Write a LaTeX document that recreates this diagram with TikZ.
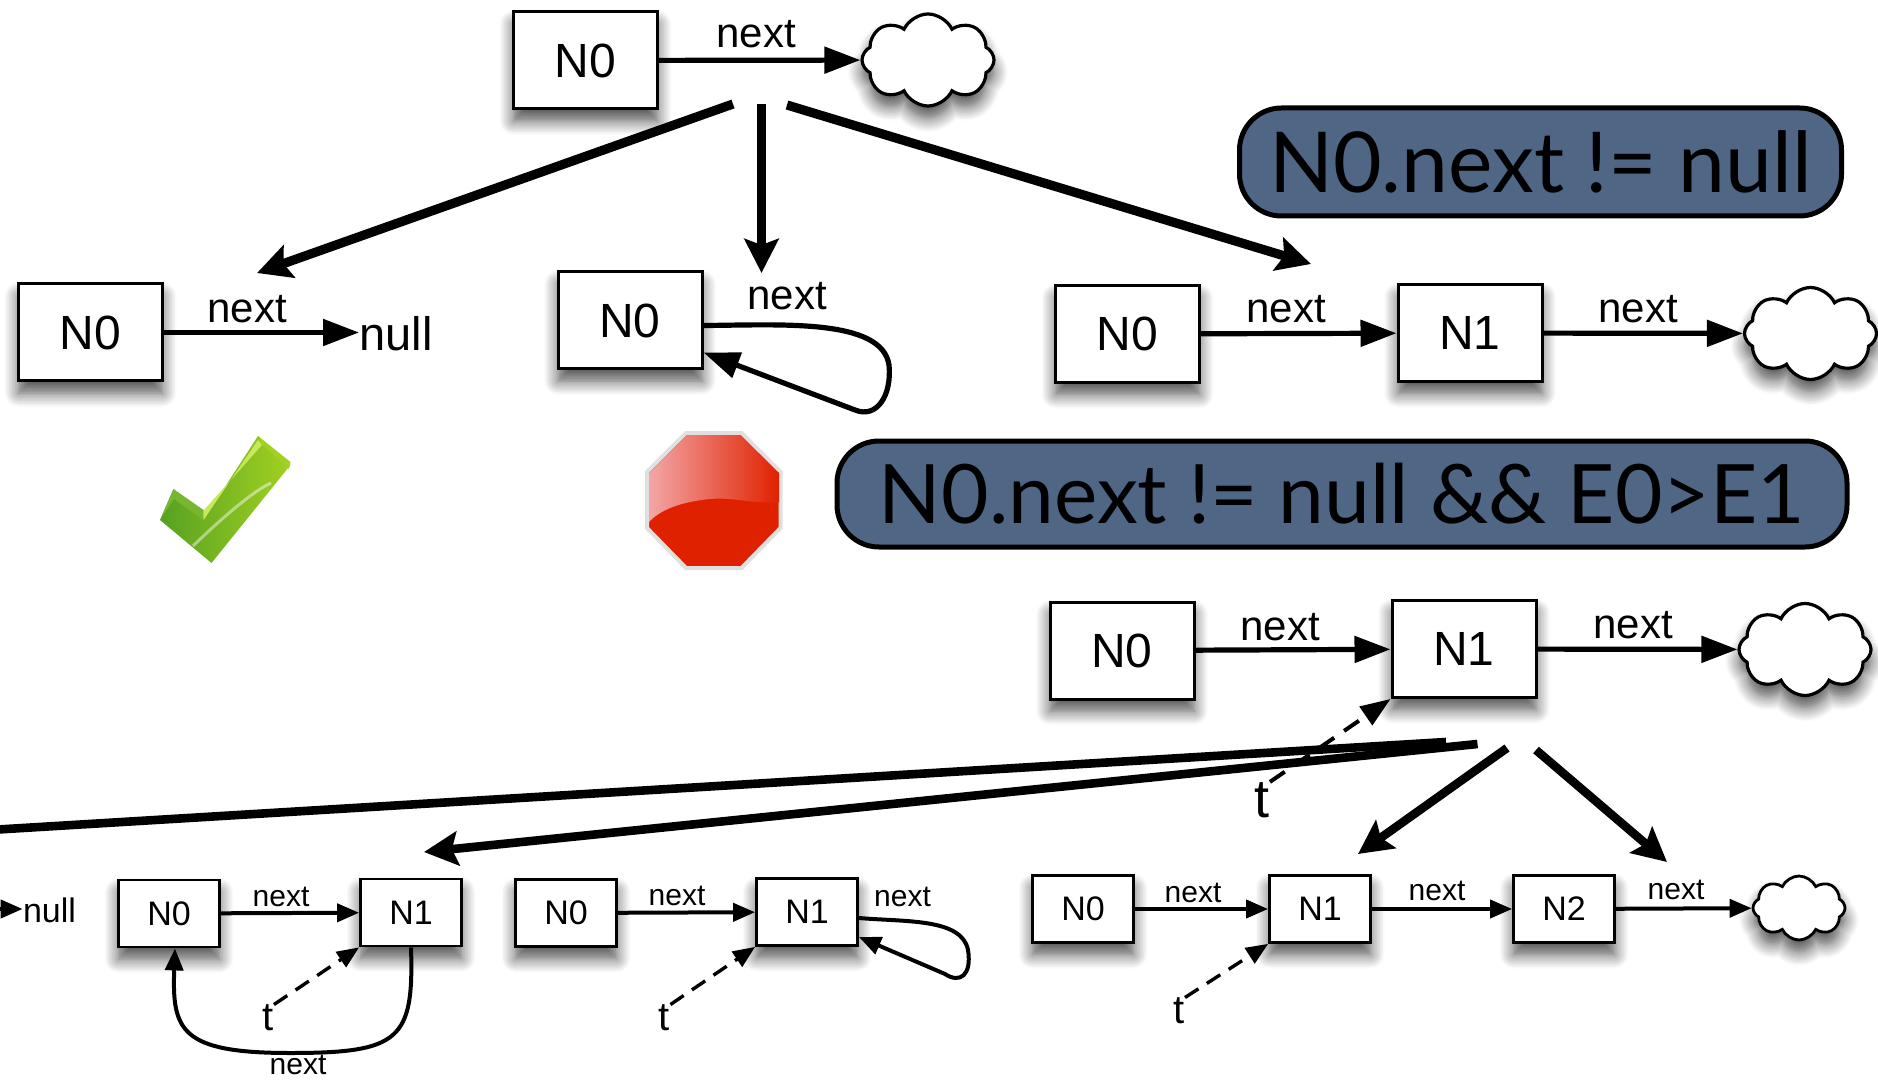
\documentclass[tikz,border=0pt]{standalone}
\usepackage{fontspec}
\setmainfont{Liberation Sans}
\newfontfamily\pillfont{Lato}
\usetikzlibrary{arrows.meta,shapes.symbols,shadows.blur}
\definecolor{ttwwuu}{rgb}{0.31,0.40,0.52}
\definecolor{ddqqqq}{rgb}{0.88,0.13,0}
\definecolor{ffwwww}{rgb}{0.95,0.65,0.65}
\definecolor{qqwuqq}{rgb}{0.34,0.63,0.13}
\definecolor{wwccqq}{rgb}{0.63,0.82,0.13}
\definecolor{ttzzqq}{rgb}{0.78,0.91,0.35}
\tikzset{
	boxshadow/.style={blur shadow={shadow xshift=0pt,shadow yshift=-6pt,shadow blur radius=7pt,shadow blur steps=10,shadow opacity=70}},
	bigbox/.style={draw,line width=1.5pt,fill=white,inner sep=0pt,minimum width=72pt,minimum height=48.5pt,font=\fontsize{24}{24}\selectfont,boxshadow},
	smallbox/.style={draw,line width=1.4pt,fill=white,inner sep=0pt,minimum width=50.5pt,minimum height=33.5pt,font=\fontsize{17}{17}\selectfont,boxshadow},
	bigcloud/.style={cloud,cloud puffs=8,cloud puff arc=130,aspect=1.4,draw,line width=1.6pt,fill=white,inner sep=0pt,minimum width=66pt,minimum height=46pt,boxshadow},
	smallcloud/.style={cloud,cloud puffs=8,cloud puff arc=130,aspect=1.4,draw,line width=1.4pt,fill=white,inner sep=0pt,minimum width=46pt,minimum height=32pt,boxshadow},
	biglabel/.style={inner sep=0pt,font=\fontsize{21}{21}\selectfont},
	smalllabel/.style={inner sep=0pt,font=\fontsize{15}{15}\selectfont},
	tlabel/.style={inner sep=0pt,font=\fontsize{27}{27}\selectfont},
	smallt/.style={inner sep=0pt,font=\fontsize{20}{20}\selectfont},
	bignext/.style={line width=2.6pt,-{Triangle[length=18pt,width=13pt]}},
	smallnext/.style={line width=2pt,-{Triangle[length=11pt,width=9pt]}},
	treearrow/.style={line width=4.6pt,-{Stealth[length=17pt,width=17pt,inset=3pt]}},
	lowtree/.style={line width=4.3pt,-{Stealth[length=17pt,width=17pt,inset=3pt]}},
	bigdash/.style={line width=2pt,dash pattern=on 9pt off 6pt,-{Triangle[length=15pt,width=11pt]}},
	smalldash/.style={line width=1.7pt,dash pattern=on 8pt off 5pt,-{Triangle[length=11pt,width=9pt]}},
	pill/.style={draw,line width=2.5pt,fill=ttwwuu,rounded corners=21pt,inner sep=0pt,font=\pillfont\selectfont}
}
\begin{document}
\begin{tikzpicture}[line cap=butt,line join=miter,x=0.5pt,y=-0.5pt]
		\useasboundingbox (0,0) rectangle (1878,1080);
		\clip (0,0) rectangle (1878,1080);
		% first line
		\node[bigbox] (topN0) at (585.5,60.5) {N0};
		\node[bigcloud] (topcloud) at (928,60) {};
		\draw[bignext] (topN0) -- (topcloud);
		\node[biglabel] (topnext) at (756,34) {next};
		\coordinate (topa) at (733,104);
		\coordinate (topb) at (761.5,104);
		\coordinate (topc) at (787,105);
		\coordinate (tipa) at (257,273);
		\coordinate (tipb) at (761.5,273);
		\coordinate (tipc) at (1311,264);
		\draw[treearrow] (topa) -- (tipa);
		\draw[treearrow] (topb) -- (tipb);
		\draw[treearrow] (topc) -- (tipc);
		% second line
		\node[bigbox] (aN0) at (90.5,332.5) {N0};
		\node[inner sep=0pt,font=\fontsize{23.5}{23.5}\selectfont] (anull) at (396,334) {null};
		\draw[bignext] (aN0) -- (aN0 -| anull.west);
		\node[biglabel] (anext) at (247,309) {next};
		\node[bigbox] (bN0) at (630,320.5) {N0};
		\node[biglabel] (bnext) at (787,296) {next};
		\draw[line width=2.6pt,-{Triangle[length=18pt,width=13pt]}] ([yshift=-2.5pt]bN0.east) .. controls (780,325) and (882,318) .. (889,365) .. controls (892,395) and (877,419) .. (855,410) -- ([yshift=-16pt]bN0.east);
		\node[bigbox] (cN0) at (1127.5,334) {N0};
		\node[bigbox] (cN1) at (1470,333) {N1};
		\node[bigcloud] (ccloud) at (1810.5,333.5) {};
		\draw[bignext] (cN0) -- (cN1);
		\draw[bignext] (cN1) -- (ccloud);
		\node[biglabel] (cnexta) at (1286,309) {next};
		\node[biglabel] (cnextb) at (1638,309) {next};
		% conditions
		\node[pill,font=\pillfont\fontsize{42}{42}\selectfont,minimum width=301pt,minimum height=54pt] (conda) at (1540.5,162) {N0.next != null};
		\node[pill,font=\pillfont\fontsize{41}{41}\selectfont,minimum width=505pt,minimum height=53pt] (condb) at (1342,494) {N0.next != null \&\& E0>E1};
		% tick
		\shade[left color=qqwuqq,right color=wwccqq] (211.5,563) -- (160,520) -- (173.5,489) -- (203.5,520) -- (258,436) -- (290.5,465) -- cycle;
		\fill[wwccqq] (258,436) -- (290.5,462) -- (289,469) -- (261,443) -- cycle;
		\fill[ttzzqq] (203.5,520) -- (258,440) -- (262,445) -- (204,510) -- cycle;
		\fill[qqwuqq!70!ttzzqq] (173.5,489) -- (203.5,510) -- (203.5,520) -- (174,499) -- (161,518) -- cycle;
		\draw[white,opacity=0.45,line width=1.5pt] (193,546) .. controls (225,515) and (255,490) .. (271,483);
		% stop
		\fill[ddqqqq,draw=black!12,line width=2pt] (686,433) -- (741.5,433) -- (780.5,472) -- (780.5,528) -- (741.5,568) -- (686,568) -- (647,528) -- (647,472) -- cycle;
		\shade[left color=ffwwww,right color=ddqqqq] (687,435) -- (740.5,435) -- (779,473) -- (779,502) .. controls (750,504) and (735,497) .. (710,499) .. controls (680,502) and (660,510) .. (649,522) -- (649,473) -- cycle;
		% third line
		\node[bigbox] (dN0) at (1122,650.5) {N0};
		\node[bigbox] (dN1) at (1464,649) {N1};
		\node[bigcloud] (dcloud) at (1805,649.5) {};
		\draw[bignext] (dN0) -- (dN1);
		\draw[bignext] (dN1) -- (dcloud);
		\node[biglabel] (dnexta) at (1280,627) {next};
		\node[biglabel] (dnextb) at (1633,625) {next};
		\node[tlabel] (dt) at (1262,800) {t};
		\draw[bigdash] (dt.north east) -- (dN1.south west);
		\coordinate (lowa) at (1446,742);
		\coordinate (lowb) at (1477.5,744);
		\coordinate (lowc) at (1507,748);
		\coordinate (lowd) at (1536,750);
		\coordinate (lowtipa) at (-60,833);
		\coordinate (lowtipb) at (424,852);
		\coordinate (lowtipc) at (1358,854);
		\coordinate (lowtipd) at (1667,862);
		\draw[lowtree] (lowa) -- (lowtipa);
		\draw[lowtree] (lowb) -- (lowtipb);
		\draw[lowtree] (lowc) -- (lowtipc);
		\draw[lowtree] (lowd) -- (lowtipd);
		% fourth line
		\coordinate (offnull) at (-40,909);
		\node[inner sep=0pt,font=\fontsize{17}{17}\selectfont] (enull) at (49.5,910) {null};
		\draw[smallnext] (offnull) -- (offnull -| enull.west);
		\node[smallbox] (eN0) at (169,913.5) {N0};
		\node[smallbox] (eN1) at (411,912.5) {N1};
		\draw[smallnext] (eN0) -- (eN1);
		\node[smalllabel] (enexta) at (281,897) {next};
		\draw[line width=2pt,-{Triangle[length=11pt,width=9pt]}] (eN1.south) .. controls (414,1040) and (400,1053) .. (290,1053) .. controls (180,1053) and (172,1030) .. ([xshift=3pt]eN0.south);
		\node[smalllabel] (enextb) at (298,1065) {next};
		\node[smallt] (et) at (268,1018) {t};
		\draw[smalldash] (et.north east) -- (eN1.south west);
		\node[smallbox] (fN0) at (566,913) {N0};
		\node[smallbox] (fN1) at (807,912) {N1};
		\draw[smallnext] (fN0) -- (fN1);
		\node[smalllabel] (fnexta) at (677,896) {next};
		\node[smalllabel] (fnextb) at (902.5,897) {next};
		\draw[line width=2pt,-{Triangle[length=11pt,width=9pt]}] ([yshift=-3pt]fN1.east) .. controls (905,922) and (962,918) .. (968,950) .. controls (972,975) and (960,984) .. (945,974) -- ([yshift=-12.5pt]fN1.east);
		\node[smallt] (ft) at (664.5,1018) {t};
		\draw[smalldash] (ft.north east) -- (fN1.south west);
		\node[smallbox] (gN0) at (1083,909) {N0};
		\node[smallbox] (gN1) at (1320,909) {N1};
		\node[smallbox] (gN2) at (1564,909) {N2};
		\node[smallcloud] (gcloud) at (1799,908) {};
		\draw[smallnext] (gN0) -- (gN1);
		\draw[smallnext] (gN1) -- (gN2);
		\draw[smallnext] (gN2) -- (gcloud);
		\node[smalllabel] (gnexta) at (1193,893) {next};
		\node[smalllabel] (gnextb) at (1437,891) {next};
		\node[smalllabel] (gnextc) at (1676,890) {next};
		\node[smallt] (gt) at (1179,1011) {t};
		\draw[smalldash] (gt.north east) -- (gN1.south west);
	\end{tikzpicture}
\end{document}
